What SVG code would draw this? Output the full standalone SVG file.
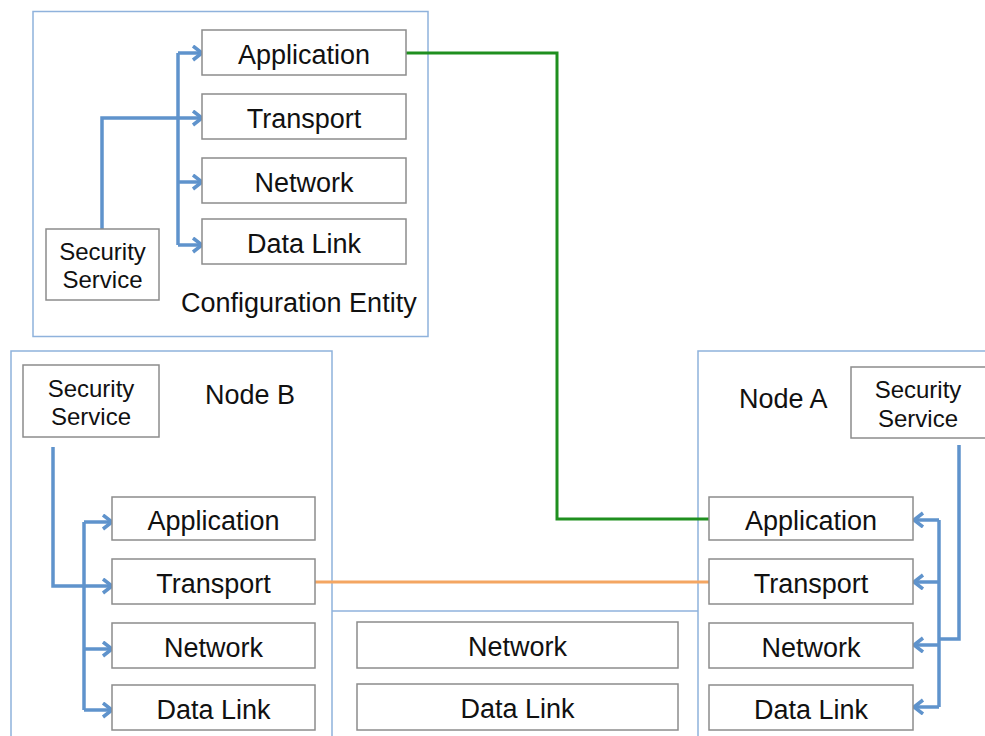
<svg xmlns="http://www.w3.org/2000/svg" width="985" height="736" viewBox="0 0 985 736">
<style>
.cont{fill:none;stroke:#8fb2dc;stroke-width:1.5}
.box{fill:#fff;stroke:#8c8c8c;stroke-width:1.5}
.lbl{font-family:"Liberation Sans",Arial,sans-serif;font-size:27px;fill:#111;text-anchor:middle}
.sec{font-family:"Liberation Sans",Arial,sans-serif;font-size:24px;fill:#111;text-anchor:middle}
.title{font-family:"Liberation Sans",Arial,sans-serif;font-size:27px;fill:#111}
.blue{fill:none;stroke:#5f93cc;stroke-width:3.5;stroke-linejoin:miter}
.arr{marker-end:url(#chev)}
</style>
<defs>
<marker id="chev" markerUnits="userSpaceOnUse" markerWidth="16" markerHeight="18" refX="12" refY="8" orient="auto" viewBox="0 0 16 18">
<path d="M3,1 L12,8 L3,15" fill="none" stroke="#5f93cc" stroke-width="3.5"/>
</marker>
</defs>
<rect x="0" y="0" width="985" height="736" fill="#fff"/>
<g id="containers">
<rect class="cont" x="33" y="11.5" width="395" height="325"/>
<path class="cont" d="M11,740 V351 H332 V740"/>
<path class="cont" d="M332,611 H698"/>
<path class="cont" d="M698,740 V351 H990"/>
<text class="title" x="181" y="312">Configuration Entity</text>
<text class="title" x="205" y="404">Node B</text>
<text class="title" x="739" y="408">Node A</text>
</g>
<g id="connectors">
<path d="M406,53 H557 V519 H709" fill="none" stroke="#1f8f1f" stroke-width="3"/>
<path d="M315,582 H709" fill="none" stroke="#f4a662" stroke-width="3"/>
<path class="blue" d="M102,229 V118 H202" style="marker-end:url(#chev)"/>
<path class="blue" d="M178,53 V245"/>
<path class="blue arr" d="M178,53 H202"/>
<path class="blue arr" d="M178,182 H202"/>
<path class="blue arr" d="M178,245 H202"/>
<path class="blue" d="M53,447 V586 H112" style="marker-end:url(#chev)"/>
<path class="blue" d="M84,522 V710"/>
<path class="blue arr" d="M84,522 H112"/>
<path class="blue arr" d="M84,649 H112"/>
<path class="blue arr" d="M84,710 H112"/>
<path class="blue" d="M959,445 V639 H939"/>
<path class="blue" d="M939,520 V707"/>
<path class="blue arr" d="M939,520 H914"/>
<path class="blue arr" d="M939,582 H914"/>
<path class="blue arr" d="M939,645 H914"/>
<path class="blue arr" d="M939,707 H914"/>
</g>
<g id="ce-application"><rect class="box" x="202" y="30" width="204" height="45"/><text class="lbl" x="304" y="64">Application</text></g>
<g id="ce-transport"><rect class="box" x="202" y="94" width="204" height="45"/><text class="lbl" x="304" y="128">Transport</text></g>
<g id="ce-network"><rect class="box" x="202" y="158" width="204" height="45"/><text class="lbl" x="304" y="192">Network</text></g>
<g id="ce-datalink"><rect class="box" x="202" y="219" width="204" height="45"/><text class="lbl" x="304" y="253">Data Link</text></g>
<g id="ce-security"><rect class="box" x="46" y="229" width="113" height="71"/><text class="sec" x="102.5" y="260">Security</text><text class="sec" x="102.5" y="288">Service</text></g>
<g id="b-security"><rect class="box" x="23" y="365" width="136" height="72"/><text class="sec" x="91" y="397">Security</text><text class="sec" x="91" y="425">Service</text></g>
<g id="b-application"><rect class="box" x="112" y="497" width="203" height="43"/><text class="lbl" x="213.5" y="530">Application</text></g>
<g id="b-transport"><rect class="box" x="112" y="559" width="203" height="45"/><text class="lbl" x="213.5" y="593">Transport</text></g>
<g id="b-network"><rect class="box" x="112" y="623" width="203" height="45"/><text class="lbl" x="213.5" y="657">Network</text></g>
<g id="b-datalink"><rect class="box" x="112" y="685" width="203" height="45"/><text class="lbl" x="213.5" y="719">Data Link</text></g>
<g id="m-network"><rect class="box" x="357" y="622" width="321" height="46"/><text class="lbl" x="517.5" y="656">Network</text></g>
<g id="m-datalink"><rect class="box" x="357" y="684" width="321" height="46"/><text class="lbl" x="517.5" y="718">Data Link</text></g>
<g id="a-security"><rect class="box" x="851" y="367" width="140" height="71"/><text class="sec" x="918" y="398">Security</text><text class="sec" x="918" y="427">Service</text></g>
<g id="a-application"><rect class="box" x="709" y="497" width="204" height="43"/><text class="lbl" x="811" y="530">Application</text></g>
<g id="a-transport"><rect class="box" x="709" y="559" width="204" height="45"/><text class="lbl" x="811" y="593">Transport</text></g>
<g id="a-network"><rect class="box" x="709" y="623" width="204" height="45"/><text class="lbl" x="811" y="657">Network</text></g>
<g id="a-datalink"><rect class="box" x="709" y="685" width="204" height="45"/><text class="lbl" x="811" y="719">Data Link</text></g>
</svg>
